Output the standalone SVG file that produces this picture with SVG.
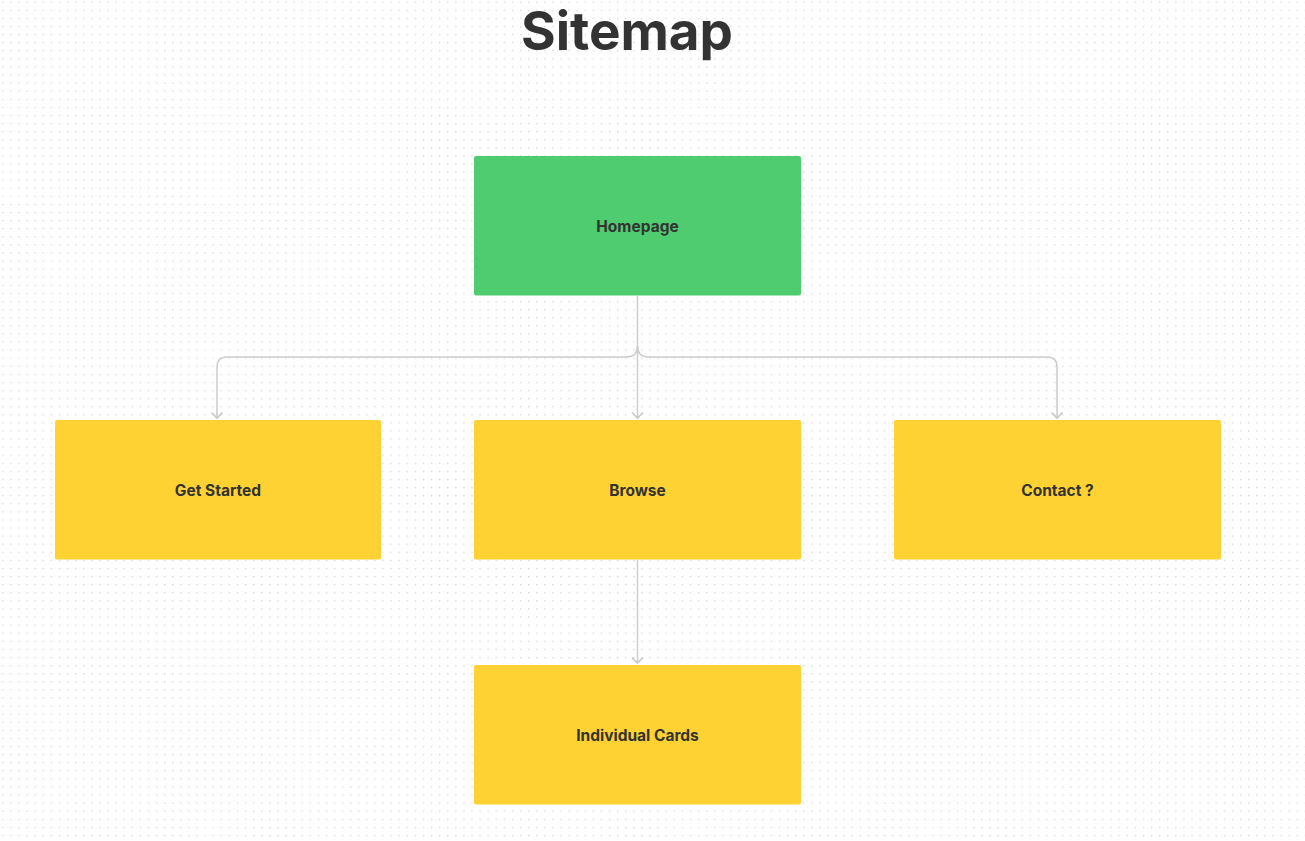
<svg xmlns="http://www.w3.org/2000/svg" width="1305" height="841" viewBox="0 0 1305 841">
<defs>
<pattern id="dots" x="2.2" y="1.6" width="8.09" height="8.09" patternUnits="userSpaceOnUse">
<rect x="0" y="0" width="1.2" height="1.2" fill="#cfcfcf"/>
</pattern>
<marker id="arr" viewBox="0 0 14 14" refX="12" refY="7" markerWidth="14" markerHeight="14" markerUnits="userSpaceOnUse" orient="auto">
<path d="M6.5 1.5 L12 7 L6.5 12.5" fill="none" stroke="#c8c8c8" stroke-width="1.6"/>
</marker>
</defs>
<style>
.box{stroke:none}
.green{fill:#4fcc6f}
.yellow{fill:#fed232}
.lbl{font-family:Inter,"Liberation Sans",sans-serif;font-weight:700;font-size:15.5px;fill:#333333;text-anchor:middle;dominant-baseline:central}
.conn{fill:none;stroke:#cccccc;stroke-width:1.5}
.title{font-family:Inter,"Liberation Sans",sans-serif;font-weight:700;font-size:53px;fill:#333333;text-anchor:middle}
</style>
<rect width="1305" height="841" fill="#ffffff"/>
<rect width="1305" height="841" fill="url(#dots)"/>
<text class="title" x="627" y="50">Sitemap</text>
<g id="connectors">
<path class="conn" d="M637.5 296 V418" marker-end="url(#arr)"/>
<path class="conn" d="M637.5 346 Q637.5 357 626.5 357 H227 Q217 357 217 367 V418" marker-end="url(#arr)"/>
<path class="conn" d="M637.5 346 Q637.5 357 648.5 357 H1047 Q1057 357 1057 367 V418" marker-end="url(#arr)"/>
<path class="conn" d="M637.5 560 V663" marker-end="url(#arr)"/>
</g>
<g id="homepage"><rect class="box green" x="474" y="156" width="327" height="139.5" rx="2"/><text class="lbl" x="637.5" y="226">Homepage</text></g>
<g id="get-started"><rect class="box yellow" x="55" y="420" width="326" height="139.5" rx="2"/><text class="lbl" x="218" y="490">Get Started</text></g>
<g id="browse"><rect class="box yellow" x="474" y="420" width="327" height="139.5" rx="2"/><text class="lbl" x="637.5" y="490">Browse</text></g>
<g id="contact"><rect class="box yellow" x="894" y="420" width="327" height="139.5" rx="2"/><text class="lbl" x="1057.5" y="490">Contact ?</text></g>
<g id="individual-cards"><rect class="box yellow" x="474" y="665" width="327" height="139.5" rx="2"/><text class="lbl" x="637.5" y="735">Individual Cards</text></g>
</svg>
